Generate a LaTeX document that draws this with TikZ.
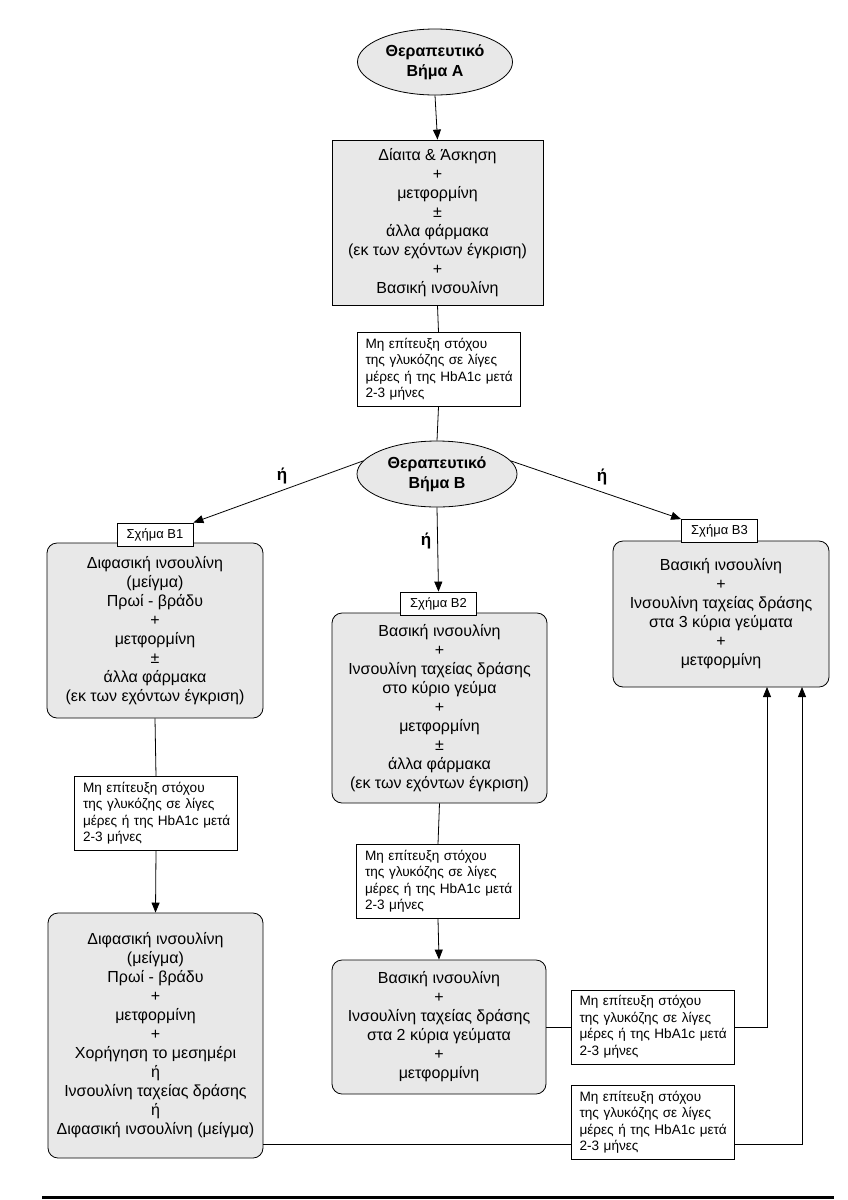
\documentclass[tikz,border=0pt]{standalone}
\usepackage{fontspec}
\setmainfont{Liberation Sans}
\usetikzlibrary{shapes.geometric,arrows.meta,calc}
\definecolor{boxgray}{HTML}{E8E8E8}
\newcommand\mainsz{\fontsize{16}{19}\selectfont}
\newcommand\notesz{\fontsize{13.6}{16.5}\selectfont}
\newcommand\tagsz{\fontsize{13}{16}\selectfont}
\newcommand\ovalsz{\fontsize{16}{20}\selectfont\bfseries}
\newcommand\orsz{\fontsize{17}{20}\selectfont\bfseries}
\newcommand\failtext{\hspace*{8.5pt}Μη επίτευξη στόχου\\\hspace*{8.5pt}της γλυκόζης σε λίγες\\\hspace*{8.5pt}μέρες ή της HbA1c μετά\\\hspace*{8.5pt}2-3 μήνες}
\begin{document}
\begin{tikzpicture}[x=1pt,y=-1pt,
  box/.style={draw=black, fill=boxgray, line width=0.8pt, align=center, inner sep=0pt, font=\mainsz},
  rbox/.style={box, rounded corners=10pt},
  oval/.style={ellipse, draw=black, fill=boxgray, line width=0.8pt, align=center, inner sep=0pt, font=\ovalsz},
  note/.style={draw=black, fill=white, line width=0.8pt, align=left, font=\notesz, text width=163pt, inner xsep=0pt, inner ysep=0pt, minimum height=74pt},
  tag/.style={draw=black, fill=white, line width=0.8pt, font=\tagsz, minimum width=76pt, minimum height=23pt, inner sep=0pt},
  ortext/.style={font=\orsz, inner sep=0pt},
  conn/.style={line width=0.8pt},
  arr/.style={conn, -{Triangle[length=10pt,width=8pt]}}]
\useasboundingbox (0,0) rectangle (848,1200);
\fill[white] (0,0) rectangle (848,1200);

\node[oval, minimum width=155pt, minimum height=66pt] (A) at (435,62) {Θεραπευτικό\\Βήμα Α};
\node[box, minimum width=211pt, minimum height=165pt] (b0) at (437.5,222.5)
  {Δίαιτα \& Άσκηση\\+\\μετφορμίνη\\±\\άλλα φάρμακα\\(εκ των εχόντων έγκριση)\\+\\Βασική ινσουλίνη};
\node[note] (n0) at (438.5,369.5) {\failtext};
\node[oval, minimum width=160pt, minimum height=66pt] (B) at (437,474) {Θεραπευτικό\\Βήμα Β};

\node[ortext] (or1) at (282,476) {ή};
\node[ortext] (or2) at (426,541) {ή};
\node[ortext] (or3) at (602,477) {ή};

\node[rbox, minimum width=216pt, minimum height=175pt] (b1) at (155,630.5)
  {Διφασική ινσουλίνη\\(μείγμα)\\Πρωί - βράδυ\\+\\μετφορμίνη\\±\\άλλα φάρμακα\\(εκ των εχόντων έγκριση)};
\node[tag] (t1) at (155,534.5) {Σχήμα Β1};

\node[rbox, minimum width=215pt, minimum height=190pt] (b2) at (439.5,708)
  {Βασική ινσουλίνη\\+\\Ινσουλίνη ταχείας δράσης\\στο κύριο γεύμα\\+\\μετφορμίνη\\±\\άλλα φάρμακα\\(εκ των εχόντων έγκριση)};
\node[tag] (t2) at (438.5,603.5) {Σχήμα Β2};

\node[rbox, minimum width=216pt, minimum height=146pt] (b3) at (721,614)
  {Βασική ινσουλίνη\\+\\Ινσουλίνη ταχείας δράσης\\στα 3 κύρια γεύματα\\+\\μετφορμίνη};
\node[tag] (t3) at (719.5,531) {Σχήμα Β3};

\node[note] (n1) at (156,813.5) {\failtext};
\node[rbox, minimum width=215pt, minimum height=245pt] (b4) at (155.5,1035.5)
  {Διφασική ινσουλίνη\\(μείγμα)\\Πρωί - βράδυ\\+\\μετφορμίνη\\+\\Χορήγηση το μεσημέρι\\ή\\Ινσουλίνη ταχείας δράσης\\ή\\Διφασική ινσουλίνη (μείγμα)};

\node[note] (n2) at (438,881.5) {\failtext};
\node[rbox, minimum width=214pt, minimum height=134pt] (b5) at (439,1027)
  {Βασική ινσουλίνη\\+\\Ινσουλίνη ταχείας δράσης\\στα 2 κύρια γεύματα\\+\\μετφορμίνη};

\node[note] (n3) at (652.5,1027) {\failtext};
\node[note] (n4) at (652.5,1122.5) {\failtext};

\coordinate (in1) at (767,687);
\coordinate (in2) at (802,687);
\coordinate (out4) at (263,1144);

% connectors
\draw[arr] (A.south) -- (b0.north);
\draw[conn] (b0.south) -- (n0.north);
\draw[conn] (n0.south) -- (B.north);
\draw[arr] (B.170) -- (t1.north east);
\draw[arr] (B.10) -- (t3.north west);
\draw[arr] (B.south) -- (t2.north);
\draw[conn] (b1.south) -- (n1.north);
\draw[arr] (n1.south) -- (b4.north);
\draw[conn] (b2.south) -- (n2.north);
\draw[arr] (n2.south) -- (b5.north);
\draw[conn] (b5.east) -- (n3.west);
\draw[arr] (n3.east) -| (in1);
\draw[conn] (out4) -- (out4 -| n4.west);
\draw[arr] (out4 -| n4.east) -| (in2);

% bottom rule
\fill[black] (42,1195.5) rectangle (834,1199);
\end{tikzpicture}
\end{document}
